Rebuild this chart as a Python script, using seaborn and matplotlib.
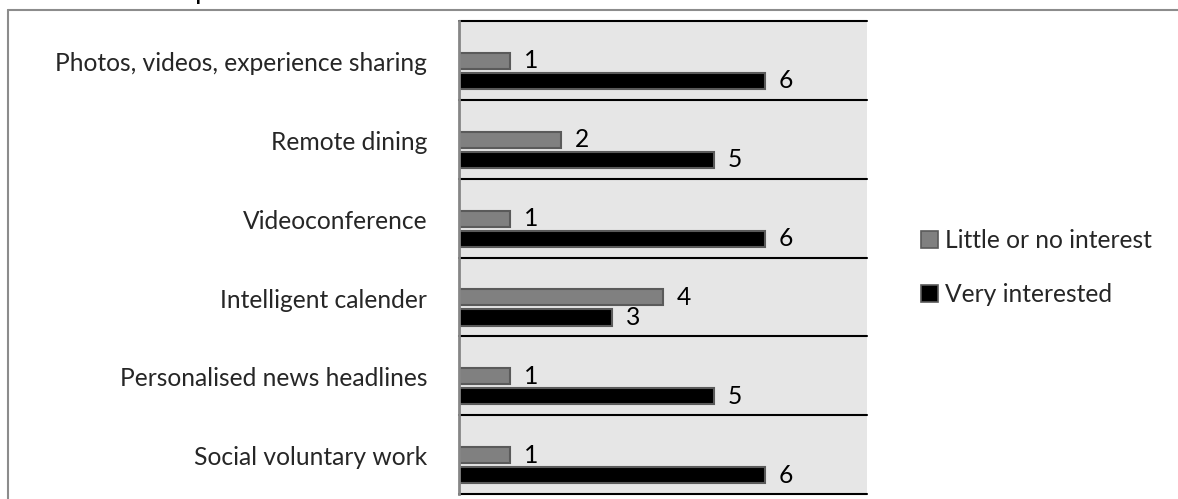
import matplotlib
matplotlib.use("Agg")
import matplotlib.pyplot as plt
import seaborn as sns
import pandas as pd
import numpy as np
from matplotlib.lines import Line2D
from matplotlib.patches import Patch

categories = ["Photos, videos, experience sharing", "Remote dining", "Videoconference",
              "Intelligent calender", "Personalised news headlines", "Social voluntary work"]
little_interest = [1, 2, 1, 4, 1, 1]
very_interested = [6, 5, 6, 3, 5, 6]
series_names = ["Little or no interest", "Very interested"]
colors = ["#808080", "#000000"]

df = pd.DataFrame({
    "Category": categories * 2,
    "Value": little_interest + very_interested,
    "Series": [series_names[0]] * len(categories) + [series_names[1]] * len(categories),
})

sns.set_theme(style="white")
plt.rcParams['font.family'] = ['Lato', 'DejaVu Sans']
FS = 17.7

W, H = 1178, 499
fig = plt.figure(figsize=(W / 100, H / 100), dpi=100)
fig.patch.set_facecolor("white")

# outer frame (partially visible)
fig.add_artist(Line2D([8 / W, 1.0], [1 - 10 / H, 1 - 10 / H], color="#8c8c8c", lw=1.5))
fig.add_artist(Line2D([8 / W, 8 / W], [0, 1 - 10 / H], color="#8c8c8c", lw=1.5))
# cut-off title fragment (only the descender is visible in the reference)
fig.text(195 / W, 1 + 1.5 / H, "p", fontsize=20, va="baseline", ha="left", color="black")

ax = fig.add_axes([459 / W, 1 - 494 / H, (867 - 459) / W, (494 - 21) / H])
ax.set_facecolor("#e6e6e6")
sns.barplot(data=df, y="Category", x="Value", hue="Series", order=categories,
            hue_order=series_names, palette=colors, saturation=1, width=0.508, gap=0.2,
            edgecolor="#5a5a5a", linewidth=1.5, orient="h", legend=False, ax=ax)

for cont in ax.containers:
    ax.bar_label(cont, padding=10, fontsize=FS, color="black")

ax.set_xlim(0, 8)
ax.set_ylim(5.366, -0.634)
for i in range(7):
    ax.axhline(-0.634 + i, color="black", lw=1.5, clip_on=False, zorder=0.5)

ax.set_xticks([])
ax.set_yticks(np.arange(len(categories)) - 0.12, categories)
ax.tick_params(axis="y", length=0, pad=23, labelsize=FS)
ax.set_xlabel("")
ax.set_ylabel("")
for s in ["top", "right", "bottom"]:
    ax.spines[s].set_visible(False)
ax.spines["left"].set_color("#868686")
ax.spines["left"].set_linewidth(2)

handles = [Patch(facecolor=c, edgecolor="#5a5a5a", linewidth=1.2) for c in colors]
fig.legend(handles=handles, labels=series_names, loc="center left",
           bbox_to_anchor=(921 / W, 1 - 267.5 / H), frameon=False, fontsize=FS,
           handlelength=0.68, handleheight=0.68, handletextpad=0.3, labelspacing=1.25,
           borderpad=0, borderaxespad=0)

fig.savefig("out.png", dpi=100)
